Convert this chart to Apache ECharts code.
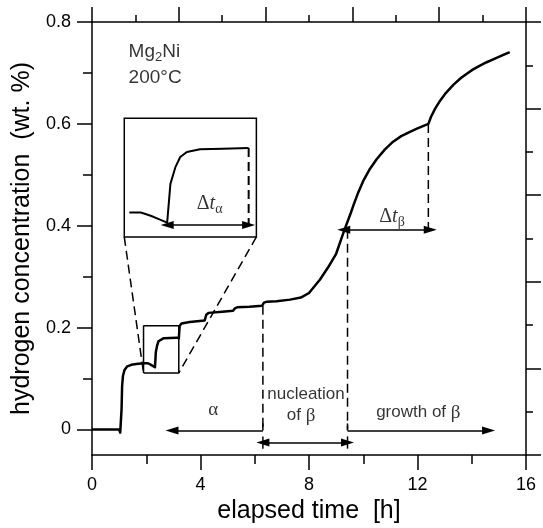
<!DOCTYPE html>
<html><head><meta charset="utf-8">
<script src="https://cdn.jsdelivr.net/npm/echarts@6/dist/echarts.min.js"></script>
<style>html,body{margin:0;padding:0;background:#fff}#c{width:543px;height:528px}</style>
</head><body><div id="c"></div>
<script>
// ---- measured curve: hydrogen concentration (wt.%) vs elapsed time (h)
const timeH = [0, 0.5, 1.0, 1.04, 1.07, 1.09, 1.11, 1.14, 1.2, 1.3, 1.45, 1.7, 1.95, 2.063, 2.16, 2.24, 2.322, 2.354, 2.403, 2.451, 2.516, 2.645, 2.872, 3.124, 3.18, 3.2, 3.23, 3.3, 3.6, 4.15, 4.18, 4.22, 4.3, 4.8, 5.2, 5.23, 5.27, 5.35, 5.8, 6.27, 6.3, 6.34, 6.45, 6.8, 7.3, 7.7, 8.0, 8.4, 8.7, 9.0, 9.28, 9.54, 9.65, 9.82, 10.0, 10.25, 10.5, 10.8, 11.1, 11.4, 11.74, 12.0, 12.4, 12.5, 12.65, 12.84, 13.05, 13.33, 13.6, 13.83, 14.05, 14.32, 14.55, 14.81, 15.1, 15.36, 15.4];
const concWt = [0, 0, 0, -0.006, -0.004, 0.04, 0.085, 0.105, 0.117, 0.124, 0.127, 0.129, 0.1301, 0.1301, 0.1275, 0.1249, 0.1222, 0.1524, 0.1654, 0.1733, 0.1772, 0.1793, 0.1798, 0.1803, 0.181, 0.179, 0.203, 0.208, 0.211, 0.214, 0.212, 0.226, 0.229, 0.231, 0.233, 0.231, 0.238, 0.240, 0.241, 0.243, 0.242, 0.249, 0.251, 0.252, 0.255, 0.259, 0.268, 0.294, 0.318, 0.345, 0.388, 0.425, 0.442, 0.466, 0.488, 0.512, 0.531, 0.550, 0.565, 0.576, 0.585, 0.591, 0.600, 0.614, 0.630, 0.646, 0.661, 0.677, 0.690, 0.699, 0.707, 0.715, 0.721, 0.727, 0.734, 0.740, 0.741];

// ---- axis ticks
const xTickValues = [0, 4, 8, 12, 16];
const yTickValues = [0, 0.2, 0.4, 0.6, 0.8];
const yMinorValues = [0.1, 0.3, 0.5, 0.7];
const auxTickMax = 10; // unlabeled top / right axes

// ---- annotation geometry (data units)
const dashT    = [6.3, 9.42, 12.4];
const dashTop  = [0.243, 0.392, 0.600];
const dashBot  = [0.0, 0.0, 0.392];
const phaseArrowLevel = -0.002;
const alphaArrowEnd = 2.95;
const growthArrowEnd = 14.62;
const nucleationLevel = -0.0255;
const nucleationBarHalf = 0.012;
const dtBetaT = [9.28, 12.47];
const dtBetaLevel = 0.392;
const insetRangeT = [1.9, 3.2];
const insetRangeC = [0.111, 0.2035];
const insetFrameT = [1.19, 6.06];
const insetFrameC = [0.378, 0.611];
const dtAlphaT = [2.322, 3.124];
const dtAlphaLevel = 0.1204;

// ---- text labels
const labelText = ['{n|Mg}{s|2}{n|Ni}', '200°C', '{g|α}', 'nucleation', '{n|of }{g|β}', '{n|growth of }{g|β}', '{d|Δ}{t|t}{s|β}'];
const labelT    = [1.33, 1.33, 4.47, 7.89, 7.71, 12.03, 11.06];
const labelC    = [0.742, 0.691, 0.039, 0.069, 0.027, 0.033, 0.418];
const insetLabelText = ['{d|Δ}{t|t}{s|α}'];
const insetLabelT = [2.74];
const insetLabelC = [0.137];

const SANS = 'Liberation Sans, Arial, Helvetica, sans-serif';
const SERIF = 'Liberation Serif, Times New Roman, serif';
const BLACK = '#000';
const richHead = {
  n: {fontFamily: SANS, fontSize: 19, color: BLACK},
  s: {fontFamily: SANS, fontSize: 13, color: BLACK, verticalAlign: 'bottom', padding: [11, 0, 0, 0]}
};
const richSub = {
  n: {fontFamily: SANS, fontSize: 17, color: BLACK},
  g: {fontFamily: SERIF, fontSize: 19, color: BLACK},
  d: {fontFamily: SERIF, fontSize: 20, color: BLACK},
  t: {fontFamily: SERIF, fontSize: 20, fontStyle: 'italic', color: BLACK},
  s: {fontFamily: SERIF, fontSize: 14, color: BLACK, verticalAlign: 'bottom', padding: [12, 0, 0, 0]}
};

const curve = timeH.map((t, i) => [t, concWt[i]]);
const insetCurve = curve.filter(p => p[0] >= 1.95 && p[0] <= dtAlphaT[1] + 1e-9);

const DASH = [9, 5];
function seg(a, b, opts) {
  return Object.assign({
    type: 'line', data: [a, b], showSymbol: false, symbol: 'none', silent: true,
    animation: false, xAxisIndex: 0, yAxisIndex: 0, clip: false,
    lineStyle: {color: BLACK, width: 1.5, type: 'solid'}, z: 3
  }, opts || {});
}
function arrowML(pairs, symbols) {
  return {
    silent: true, animation: false, symbol: symbols, symbolSize: [8, 13],
    label: {show: false}, emphasis: {disabled: true},
    lineStyle: {color: BLACK, width: 1.5, type: 'solid'},
    itemStyle: {color: BLACK},
    data: pairs.map(p => [{coord: p[0]}, {coord: p[1]}])
  };
}

const series = [];
series.push({type: 'line', data: curve, showSymbol: false, symbol: 'none', silent: true, animation: false,
  xAxisIndex: 0, yAxisIndex: 0, lineStyle: {color: BLACK, width: 2.5, join: 'round'}, z: 5});
dashT.forEach((t, i) => series.push(seg([t, dashTop[i]], [t, dashBot[i]], {lineStyle: {color: BLACK, width: 1.5, type: DASH}})));
series.push(Object.assign(seg([dashT[0], phaseArrowLevel], [dashT[0], phaseArrowLevel]), {
  markLine: arrowML([
    [[dashT[0], phaseArrowLevel], [alphaArrowEnd, phaseArrowLevel]],
    [[dashT[1], phaseArrowLevel], [growthArrowEnd, phaseArrowLevel]],
  ], ['none', 'triangle'])
}));
series.push(Object.assign(seg([dashT[0], nucleationLevel], [dashT[0], nucleationLevel]), {
  markLine: arrowML([
    [[dashT[0], nucleationLevel], [dashT[1], nucleationLevel]],
    [[dtBetaT[0], dtBetaLevel], [dtBetaT[1], dtBetaLevel]],
  ], ['triangle', 'triangle'])
}));
dashT.slice(0, 2).forEach(t => series.push(seg([t, nucleationLevel + nucleationBarHalf], [t, nucleationLevel - nucleationBarHalf])));
dashT.slice(0, 2).forEach(t => series.push(seg([t, 0.012], [t, phaseArrowLevel])));
series.push({type: 'line', showSymbol: false, symbol: 'none', silent: true, animation: false, xAxisIndex: 0, yAxisIndex: 0,
  data: [[insetRangeT[0], insetRangeC[0]], [insetRangeT[1], insetRangeC[0]], [insetRangeT[1], insetRangeC[1]], [insetRangeT[0], insetRangeC[1]], [insetRangeT[0], insetRangeC[0]]],
  lineStyle: {color: BLACK, width: 1.5}, z: 4});
series.push(seg([insetFrameT[0], insetFrameC[0]], [insetRangeT[0], insetRangeC[0]], {lineStyle: {color: BLACK, width: 1.5, type: DASH}}));
series.push(seg([insetFrameT[1], insetFrameC[0]], [insetRangeT[1], insetRangeC[0]], {lineStyle: {color: BLACK, width: 1.5, type: DASH}}));
series.push({type: 'scatter', xAxisIndex: 0, yAxisIndex: 0, silent: true, animation: false, symbolSize: 1,
  itemStyle: {color: 'rgba(0,0,0,0)'}, z: 6,
  data: labelText.map((s, i) => ({value: [labelT[i], labelC[i]], label: {
    show: true, formatter: s, position: i < 2 ? 'right' : 'inside', distance: 0,
    fontFamily: SANS, fontSize: i < 2 ? 19 : 17, color: BLACK, rich: i < 2 ? richHead : richSub}}))
});
series.push({type: 'line', data: insetCurve, showSymbol: false, symbol: 'none', silent: true, animation: false,
  xAxisIndex: 2, yAxisIndex: 3, lineStyle: {color: BLACK, width: 2}, z: 5});
series.push({type: 'line', data: [[dtAlphaT[1], insetCurve[insetCurve.length - 1][1]], [dtAlphaT[1], dtAlphaLevel]],
  showSymbol: false, symbol: 'none', silent: true, animation: false, xAxisIndex: 2, yAxisIndex: 3,
  lineStyle: {color: BLACK, width: 2, type: DASH}, z: 5,
  markLine: arrowML([[[dtAlphaT[0], dtAlphaLevel], [dtAlphaT[1], dtAlphaLevel]]], ['triangle', 'triangle'])});
series.push({type: 'scatter', xAxisIndex: 2, yAxisIndex: 3, silent: true, animation: false, symbolSize: 1,
  itemStyle: {color: 'rgba(0,0,0,0)'}, z: 6,
  data: insetLabelText.map((s, i) => ({value: [insetLabelT[i], insetLabelC[i]], label: {show: true, formatter: s, position: 'inside', rich: richSub}}))});

const axisLineStyle = {color: BLACK, width: 1.5};
const option = {
  backgroundColor: '#fff',
  animation: false,
  grid: [
    {left: 92, right: 17, top: 22, bottom: 73, outerBoundsMode: 'none', containLabel: false},
    {left: 124, top: 118, width: 132, height: 118, show: true, borderColor: BLACK, borderWidth: 1.5, backgroundColor: '#fff', z: 2, outerBoundsMode: 'none'}
  ],
  xAxis: [
    {gridIndex: 0, type: 'value', position: 'bottom', min: 0, max: 16, interval: 4,
      axisLine: {show: true, onZero: false, lineStyle: axisLineStyle},
      axisTick: {show: true, inside: false, length: 15, lineStyle: axisLineStyle},
      minorTick: {show: true, splitNumber: 2, length: 9, lineStyle: axisLineStyle},
      splitLine: {show: false}, minorSplitLine: {show: false},
      axisLabel: {fontFamily: SANS, fontSize: 18, color: BLACK, margin: 21},
      name: 'elapsed time  [h]', nameLocation: 'middle', nameGap: 44,
      nameTextStyle: {fontFamily: SANS, fontSize: 25, color: BLACK}},
    {gridIndex: 0, type: 'value', position: 'top', min: 0, max: auxTickMax, interval: 2,
      axisLine: {show: true, onZero: false, lineStyle: axisLineStyle},
      axisTick: {show: true, inside: false, length: 15, lineStyle: axisLineStyle},
      minorTick: {show: true, splitNumber: 2, length: 7, lineStyle: axisLineStyle},
      splitLine: {show: false}, axisLabel: {show: false}},
    {gridIndex: 1, type: 'value', show: false, min: insetRangeT[0], max: insetRangeT[1]}
  ],
  yAxis: [
    {gridIndex: 0, type: 'value', position: 'left', min: -0.05, max: 0.8,
      axisLine: {show: true, onZero: false, lineStyle: axisLineStyle},
      axisTick: {show: true, inside: false, length: 15, lineStyle: axisLineStyle, customValues: yTickValues},
      splitLine: {show: false},
      axisLabel: {fontFamily: SANS, fontSize: 18, color: BLACK, margin: 21, customValues: yTickValues,
        formatter: v => (Math.abs(v) < 1e-9 ? '0' : String(+v.toFixed(1)))},
      name: 'hydrogen concentration  (wt. %)', nameLocation: 'middle', nameGap: 50, nameRotate: 90,
      nameTextStyle: {fontFamily: SANS, fontSize: 25, color: BLACK}},
    {gridIndex: 0, type: 'value', position: 'left', min: -0.05, max: 0.8,
      axisLine: {show: false},
      axisTick: {show: true, inside: false, length: 9, lineStyle: axisLineStyle, customValues: yMinorValues},
      splitLine: {show: false}, axisLabel: {show: false}},
    {gridIndex: 0, type: 'value', position: 'right', min: 0, max: auxTickMax, interval: 2,
      axisLine: {show: true, onZero: false, lineStyle: axisLineStyle},
      axisTick: {show: true, inside: false, length: 15, lineStyle: axisLineStyle},
      minorTick: {show: true, splitNumber: 2, length: 7, lineStyle: axisLineStyle},
      splitLine: {show: false}, axisLabel: {show: false}},
    {gridIndex: 1, type: 'value', show: false, min: insetRangeC[0], max: insetRangeC[1]}
  ],
  series: series
};

const chart = echarts.init(document.getElementById('c'), null, {renderer: 'canvas'});
chart.setOption(option);
const p0 = chart.convertToPixel({xAxisIndex: 0, yAxisIndex: 0}, [insetFrameT[0], insetFrameC[1]]);
const p1 = chart.convertToPixel({xAxisIndex: 0, yAxisIndex: 0}, [insetFrameT[1], insetFrameC[0]]);
chart.setOption({grid: [{}, {left: p0[0], top: p0[1], width: p1[0] - p0[0], height: p1[1] - p0[1]}]});
</script>
</body></html>
